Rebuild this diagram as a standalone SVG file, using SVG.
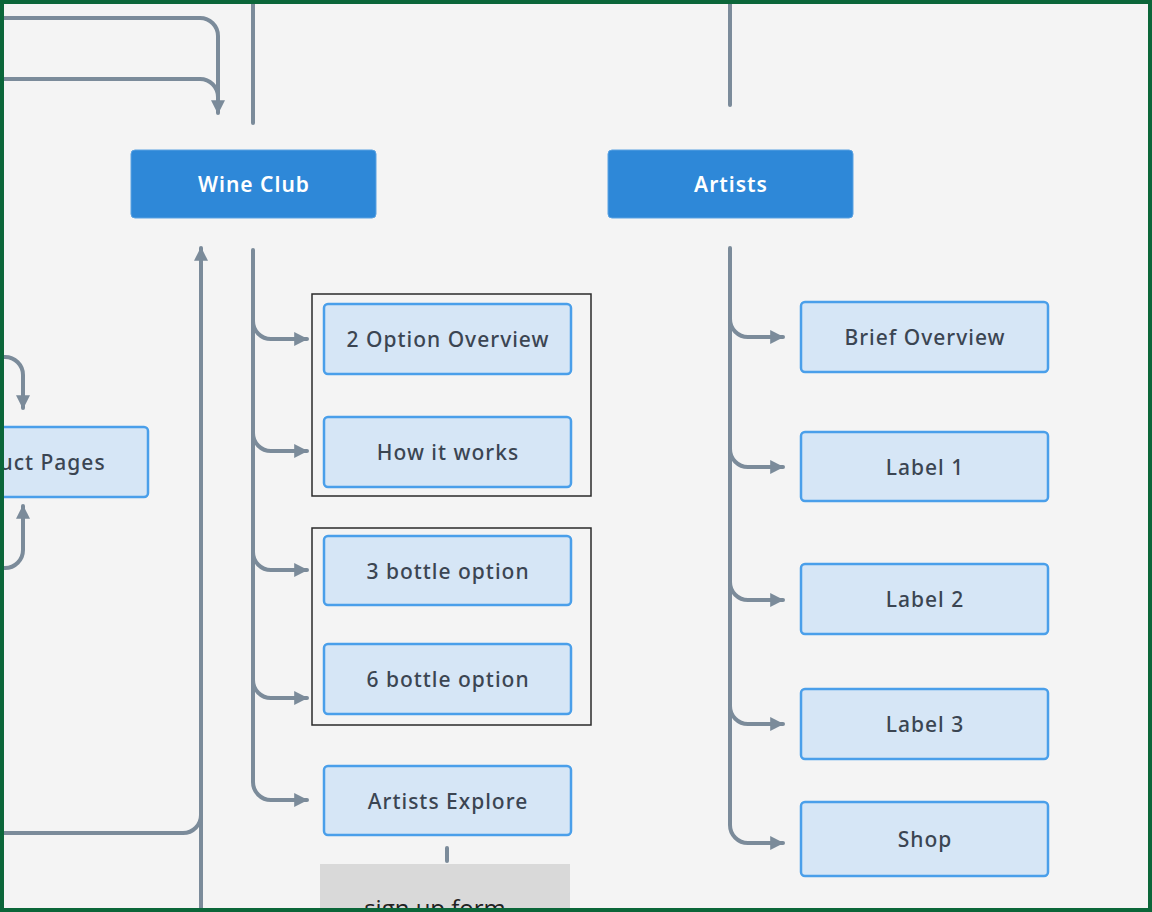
<svg xmlns="http://www.w3.org/2000/svg" width="1152" height="912" viewBox="0 0 1152 912">
  <defs>
    <marker id="arrow" markerUnits="userSpaceOnUse" markerWidth="14" markerHeight="14" viewBox="0 0 12 12" refX="11" refY="6" orient="auto">
      <path d="M0,0 L12,6 L0,12 z" fill="#7b8b9a"/>
    </marker>
    <style>
      .bg { fill: #f4f4f4; }
      .frame { fill: none; stroke: #0b6639; stroke-width: 8; }
      .conn { fill: none; stroke: #7b8b9a; stroke-width: 4; stroke-linecap: round; }
      .arr { marker-end: url(#arrow); }
      .dark { fill: #2e88d8; stroke: #5aa2e2; stroke-width: 1; }
      .light { fill: #d6e6f6; stroke: #4a9fea; stroke-width: 2.5; }
      .grp { fill: none; stroke: #2a2a2a; stroke-width: 1.5; }
      .gray { fill: #d9d9d9; }
      .t { font-family: "Noto Sans", "DejaVu Sans", sans-serif; font-size: 21px; letter-spacing: 1px; font-weight: 500; text-anchor: middle; fill: #3b4552; }
      .tw { font-family: "Noto Sans", "DejaVu Sans", sans-serif; font-size: 21px; letter-spacing: 1px; font-weight: 600; text-anchor: middle; fill: #ffffff; }
      .ts { font-family: "Open Sans", "Liberation Sans", sans-serif; font-size: 24px; text-anchor: middle; fill: #222222; }
    </style>
  </defs>
  <rect class="bg" x="0" y="0" width="1152" height="912"/>

  <g id="connectors">
    <path class="conn" d="M0,18 H200 A18,18 0 0 1 218,36 V100"/>
    <path class="conn arr" d="M0,79 H200 A18,18 0 0 1 218,97 V113"/>
    <path class="conn" d="M253,4 V123"/>
    <path class="conn" d="M730,4 V105"/>
    <path class="conn arr" d="M0,357 H5 A18,18 0 0 1 23,375 V408"/>
    <path class="conn arr" d="M0,568 H5 A18,18 0 0 0 23,550 V506"/>
    <path class="conn arr" d="M201,912 V248"/>
    <path class="conn" d="M0,833 H183 A18,18 0 0 0 201,815 V690"/>
    <path class="conn" d="M253,250 V782 A18,18 0 0 0 271,800 H307" marker-end="url(#arrow)"/>
    <path class="conn arr" d="M253,321 A18,18 0 0 0 271,339 H307"/>
    <path class="conn arr" d="M253,433 A18,18 0 0 0 271,451 H307"/>
    <path class="conn arr" d="M253,552 A18,18 0 0 0 271,570 H307"/>
    <path class="conn arr" d="M253,680 A18,18 0 0 0 271,698 H307"/>
    <path class="conn" d="M730,248 V825 A18,18 0 0 0 748,843 H783" marker-end="url(#arrow)"/>
    <path class="conn arr" d="M730,319 A18,18 0 0 0 748,337 H783"/>
    <path class="conn arr" d="M730,449 A18,18 0 0 0 748,467 H783"/>
    <path class="conn arr" d="M730,582 A18,18 0 0 0 748,600 H783"/>
    <path class="conn arr" d="M730,706 A18,18 0 0 0 748,724 H783"/>
    <path class="conn" d="M447,848 V861"/>
  </g>

  <g id="group-option">
    <rect class="grp" x="312" y="294" width="279" height="202"/>
  </g>
  <g id="group-bottle">
    <rect class="grp" x="312" y="528" width="279" height="197"/>
  </g>

  <g id="node-wine-club">
    <rect class="dark" x="131" y="150" width="245" height="68" rx="4"/>
    <text class="tw" x="254" y="192">Wine Club</text>
  </g>
  <g id="node-artists">
    <rect class="dark" x="608" y="150" width="245" height="68" rx="4"/>
    <text class="tw" x="731" y="192">Artists</text>
  </g>
  <g id="node-product-pages">
    <rect class="light" x="-100" y="427" width="248" height="70" rx="4"/>
    <text class="t" x="27" y="470">Product Pages</text>
  </g>
  <g id="node-2-option">
    <rect class="light" x="324" y="304" width="247" height="70" rx="4"/>
    <text class="t" x="448" y="347">2 Option Overview</text>
  </g>
  <g id="node-how-it-works">
    <rect class="light" x="324" y="417" width="247" height="70" rx="4"/>
    <text class="t" x="448" y="460">How it works</text>
  </g>
  <g id="node-3-bottle">
    <rect class="light" x="324" y="536" width="247" height="69" rx="4"/>
    <text class="t" x="448" y="579">3 bottle option</text>
  </g>
  <g id="node-6-bottle">
    <rect class="light" x="324" y="644" width="247" height="70" rx="4"/>
    <text class="t" x="448" y="687">6 bottle option</text>
  </g>
  <g id="node-artists-explore">
    <rect class="light" x="324" y="766" width="247" height="69" rx="4"/>
    <text class="t" x="448" y="809">Artists Explore</text>
  </g>
  <g id="node-sign-up-form">
    <rect class="gray" x="320" y="864" width="250" height="60"/>
    <text class="ts" x="435" y="917">sign up form</text>
  </g>
  <g id="node-brief-overview">
    <rect class="light" x="801" y="302" width="247" height="70" rx="4"/>
    <text class="t" x="925" y="345">Brief Overview</text>
  </g>
  <g id="node-label-1">
    <rect class="light" x="801" y="432" width="247" height="69" rx="4"/>
    <text class="t" x="925" y="475">Label 1</text>
  </g>
  <g id="node-label-2">
    <rect class="light" x="801" y="564" width="247" height="70" rx="4"/>
    <text class="t" x="925" y="607">Label 2</text>
  </g>
  <g id="node-label-3">
    <rect class="light" x="801" y="689" width="247" height="70" rx="4"/>
    <text class="t" x="925" y="732">Label 3</text>
  </g>
  <g id="node-shop">
    <rect class="light" x="801" y="802" width="247" height="74" rx="4"/>
    <text class="t" x="925" y="847">Shop</text>
  </g>

  <rect class="frame" x="0" y="0" width="1152" height="912"/>
</svg>
